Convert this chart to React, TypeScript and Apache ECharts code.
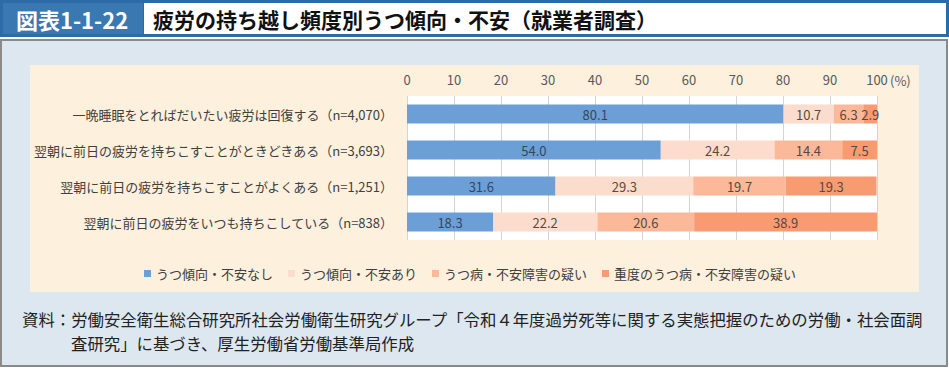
import React, { useEffect, useRef } from "react";
import * as echarts from "echarts";

const categories = [
  "一晩睡眠をとればだいたい疲労は回復する（n=4,070）",
  "翌朝に前日の疲労を持ちこすことがときどきある（n=3,693）",
  "翌朝に前日の疲労を持ちこすことがよくある（n=1,251）",
  "翌朝に前日の疲労をいつも持ちこしている（n=838）",
];
const seriesNames = [
  "うつ傾向・不安なし",
  "うつ傾向・不安あり",
  "うつ病・不安障害の疑い",
  "重度のうつ病・不安障害の疑い",
];
const noneValues = [80.1, 54.0, 31.6, 18.3];
const someValues = [10.7, 24.2, 29.3, 22.2];
const suspectedValues = [6.3, 14.4, 19.7, 20.6];
const severeValues = [2.9, 7.5, 19.3, 38.9];
const xTicks = [0, 10, 20, 30, 40, 50, 60, 70, 80, 90, 100];

const colors = ["#6d9fd7", "#fcdccc", "#fbb99a", "#f89b71"];
const labelColors = ["#33475e", "#5a4842", "#5a4842", "#5a4842"];
const FONT = '"Noto Sans CJK JP", "Noto Sans", sans-serif';

export default function App() {
  const ref = useRef<HTMLDivElement>(null);
  useEffect(() => {
    document.body.style.margin = "0";
    if (!ref.current) return;
    const chart = echarts.init(ref.current, null, { renderer: "svg" });
    const values = [noneValues, someValues, suspectedValues, severeValues];
    chart.setOption({
      animation: false,
      textStyle: { fontFamily: FONT },
      graphic: [
        // title bar
        { type: "rect", z: -10, shape: { x: 0, y: 0, width: 949, height: 37 }, style: { fill: "#2c6ba6" } },
        { type: "rect", z: -9, shape: { x: 3, y: 3, width: 140, height: 31 }, style: { fill: "#3a78b2" } },
        { type: "rect", z: -9, shape: { x: 144, y: 3, width: 802, height: 31 }, style: { fill: "#ffffff" } },
        {
          type: "text", z: 5, x: 72, y: 19,
          style: { text: "図表1-1-22", fill: "#ffffff", font: `bold 22px ${FONT}`, textAlign: "center", textVerticalAlign: "middle" },
        },
        {
          type: "text", z: 5, x: 153, y: 19,
          style: { text: "疲労の持ち越し頻度別うつ傾向・不安（就業者調査）", fill: "#111111", font: `bold 21px ${FONT}`, textAlign: "left", textVerticalAlign: "middle" },
        },
        // panel
        { type: "rect", z: -10, shape: { x: 1, y: 40, width: 946, height: 326 }, style: { fill: "#dde7f0", stroke: "#8a8a8a", lineWidth: 2 } },
        { type: "rect", z: -9, shape: { x: 30, y: 65, width: 889, height: 227 }, style: { fill: "#fdf0dd" } },
        {
          type: "text", z: 5, x: 890, y: 80,
          style: { text: "(%)", fill: "#595959", font: `13px ${FONT}`, textAlign: "left", textVerticalAlign: "middle" },
        },
        {
          type: "text", z: 5, x: 22, y: 319,
          style: {
            text: "資料：労働安全衛生総合研究所社会労働衛生研究グループ「令和４年度過労死等に関する実態把握のための労働・社会面調",
            fill: "#222222", font: `16.4px ${FONT}`, textAlign: "left", textVerticalAlign: "middle",
          },
        },
        {
          type: "text", z: 5, x: 71, y: 343,
          style: {
            text: "査研究」に基づき、厚生労働省労働基準局作成",
            fill: "#222222", font: `16.4px ${FONT}`, textAlign: "left", textVerticalAlign: "middle",
          },
        },
      ],
      grid: {
        left: 407, right: 72, top: 96, height: 144,
        show: true, backgroundColor: "#ffffff", borderWidth: 0, containLabel: false,
      },
      legend: {
        data: seriesNames,
        left: 139, top: 262,
        icon: "rect", itemWidth: 7, itemHeight: 7, itemGap: 15,
        textStyle: { fontSize: 13, color: "#404040", fontFamily: FONT },
      },
      xAxis: {
        type: "value", position: "top", min: 0, max: 100, interval: 10,
        axisLine: { show: false }, axisTick: { show: false },
        splitLine: { show: true, lineStyle: { color: "#d4d4d4", width: 1 } },
        axisLabel: {
          margin: 10, fontSize: 13, color: "#595959", fontFamily: FONT,
          formatter: (v: number) => (xTicks.includes(v) ? String(v) : ""),
        },
      },
      yAxis: {
        type: "category", data: categories, inverse: true,
        axisLine: { show: false }, axisTick: { show: false },
        axisLabel: { margin: 14, fontSize: 13, color: "#404040", fontFamily: FONT },
      },
      series: seriesNames.map((name, i) => ({
        name, type: "bar", stack: "total", barWidth: 19,
        data: values[i],
        itemStyle: { color: colors[i] },
        label: {
          show: true, position: "inside", fontSize: 13, color: labelColors[i], fontFamily: FONT,
          formatter: (p: any) => Number(p.value).toFixed(1),
        },
      })),
    });
    return () => chart.dispose();
  }, []);
  return <div ref={ref} style={{ width: 949, height: 368 }} />;
}
